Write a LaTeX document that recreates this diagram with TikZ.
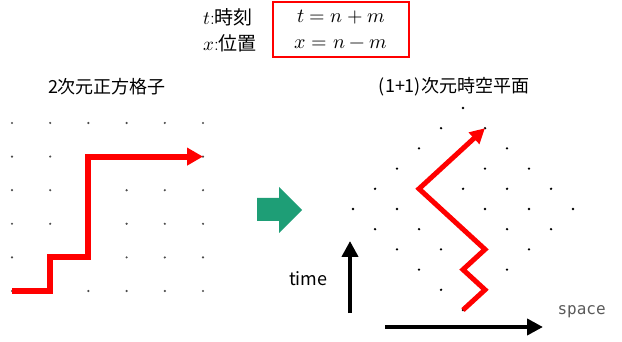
\documentclass[tikz,border=0pt]{standalone}
\usepackage{fontspec}
\usepackage{unicode-math}
\setmathfont{Latin Modern Math}
\newfontfamily\jp{Noto Sans CJK JP}
\newfontfamily\spacefont{DejaVu Sans Mono}
\usetikzlibrary{arrows.meta}
\definecolor{arrowgreen}{RGB}{30,158,118}
\definecolor{spacegray}{RGB}{90,90,90}
\tikzset{
  sqdot/.style={fill=black!70},
  stdot/.style={fill=black},
  walkL/.style={red,line width=6pt,-{Triangle[length=16pt,width=17pt]}},
  walkR/.style={red,line width=5pt,-{Triangle[length=15pt,width=15pt]}},
  axisarrow/.style={black,line width=4pt,-{Triangle[length=16pt,width=16pt]}},
  ttl/.style={font=\jp\fontsize{18}{22}\selectfont}
}

\begin{document}
\begin{tikzpicture}[x=1pt,y=-1pt]
\useasboundingbox (0,0) rectangle (622,342);
\node[align=left,font=\fontsize{19}{26}\selectfont] (legend) at (230,30) {$t$:{\jp 時刻}\\$x$:{\jp 位置}};
\node[draw=red,line width=1.6pt,minimum width=136pt,minimum height=55pt,align=center,font=\fontsize{20}{26}\selectfont] (eqbox) at (341,29.5) {$t=n+m$\\$x=n-m$};
\node[ttl] (sqtitle) at (107,87) {2次元正方格子};
\node[ttl] (sttitle) at (454,87) {(1+1)次元時空平面};
\foreach \p in {0,...,5}
  \foreach \q in {0,...,5} {
    \coordinate (L\p\q) at ({12+38.2*\p},{291-33.6*\q});
    \coordinate (R\p\q) at ({463+22*(\p-\q)},{310-20.2*(\p+\q)});
    \fill[sqdot] (L\p\q) circle (1.2);
    \fill[stdot] (R\p\q) circle (1.3);
  }
\draw[walkL] (L00) -- (L10) -- (L11) -- (L21) -- (L24) -- (L54);
\draw[walkR] (R00) -- (R10) -- (R11) -- (R21) -- (R24) -- (R54);
\fill[arrowgreen] (257,198) -- (279,198) -- (279,187) -- (302,210) -- (279,233) -- (279,221) -- (257,221) -- cycle;
\coordinate (t0) at (350,313);
\coordinate (t1) at (350,241);
\coordinate (s0) at (385,327);
\coordinate (s1) at (543,327);
\draw[axisarrow] (t0) -- (t1);
\draw[axisarrow] (s0) -- (s1);
\node[font=\jp\fontsize{18}{22}\selectfont,anchor=east] (timelbl) at (331,279) {time};
\node[font=\spacefont\fontsize{16}{20}\selectfont,text=spacegray,anchor=west] (spacelbl) at (554,312) {space};
\end{tikzpicture}
\end{document}
